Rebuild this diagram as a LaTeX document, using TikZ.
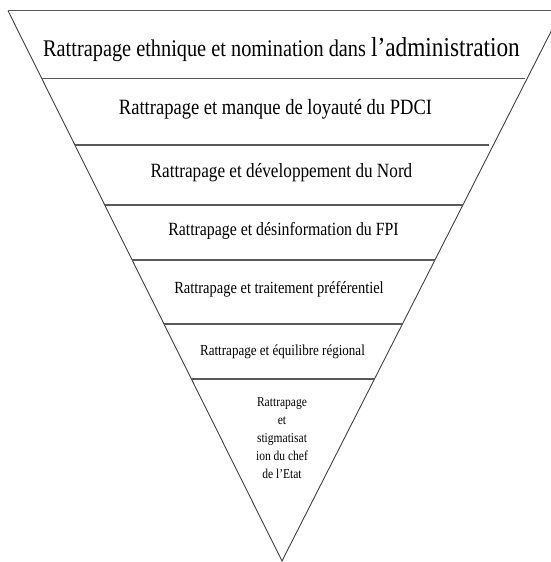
\documentclass[tikz,border=0pt]{standalone}
\usepackage{fontspec}
\setmainfont{Liberation Serif}[FakeStretch=0.85]
\usetikzlibrary{calc}
\tikzset{
  side/.style={draw=black!75, line width=0.9bp},
  divider/.style={draw=black!65, line width=1.4bp},
  lbl/.style={anchor=base, inner sep=0pt, text=black},
}
\newcommand{\fsz}[1]{\fontsize{#1}{18}\selectfont}
\begin{document}
\begin{tikzpicture}[x=1bp,y=-1bp]
\useasboundingbox (0,0) rectangle (551,562);
\clip (0,0) rectangle (551,562);
\coordinate (TL) at (8,10.7);
\coordinate (TR) at (561.6,10.7);
\coordinate (A) at (282,561);
% sides and top
\draw[side] (TL) -- (A) -- (TR);
\draw[divider] (TL) -- (TR);
% dividers
\foreach \n/\yy/\sh in {1/78.7/2, 2/145/4, 3/205/0, 4/260/0, 5/324/0, 6/379/0}{
  \coordinate (L\n) at ($(TL)!{(\yy-10.7)/550.3}!(A)$);
  \coordinate (R\n) at ($(TR)!{(\yy-10.7)/550.3}!(A)$);
  \draw[divider, shorten >=\sh bp] (L\n) -- (R\n);
}
% labels
\node[lbl] (t1) at (281.5,56.7) {\fsz{24}Rattrapage ethnique et nomination dans \fsz{27.5}l’administration};
\node[lbl] (t2) at (275.5,115) {\fsz{21.9}Rattrapage et manque de loyauté du PDCI};
\node[lbl] (t3) at (281.5,178) {\fsz{20.3}Rattrapage et développement du Nord};
\node[lbl] (t4) at (283.5,235) {\fsz{18.7}Rattrapage et désinformation du FPI};
\node[lbl] (t5) at (279,293) {\fsz{17.1}Rattrapage et traitement préférentiel};
\node[lbl] (t6) at (282.5,355) {\fsz{15.4}Rattrapage et équilibre régional};
\node[lbl, align=center, font=\fsz{13.6}] (t7) at (282,478) {Rattrapage\\et\\stigmatisat\\ion du chef\\de l’Etat};
\end{tikzpicture}
\end{document}
